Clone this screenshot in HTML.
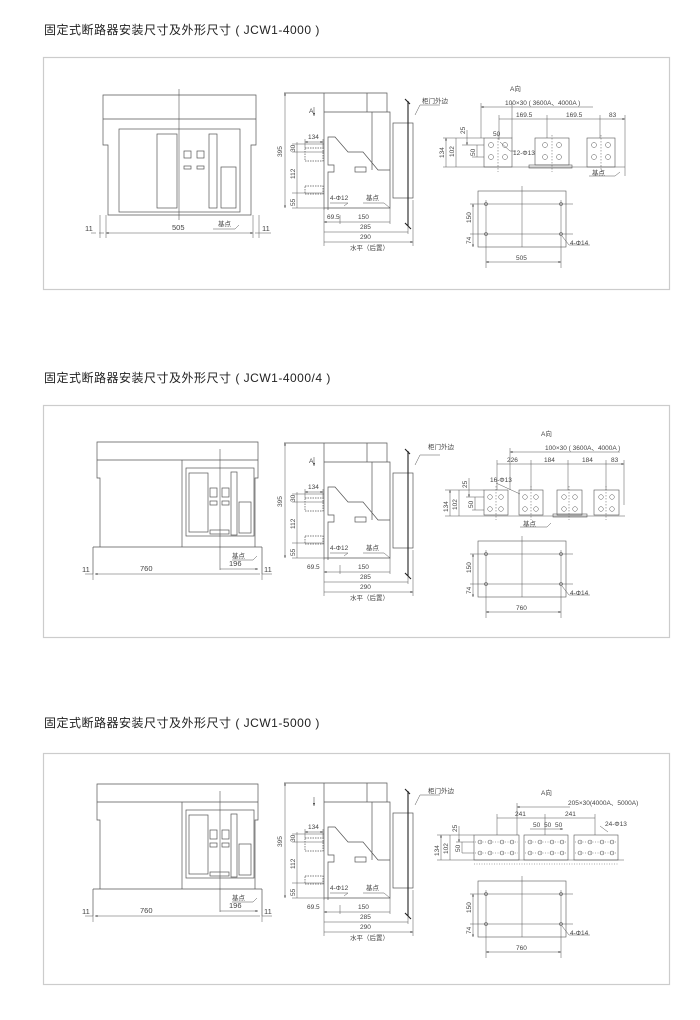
<!DOCTYPE html>
<html><head><meta charset="utf-8"><style>
html,body{margin:0;padding:0;background:#fff;}
svg{display:block;}
text{font-family:"Liberation Sans","Noto Sans CJK SC",sans-serif;fill:#444;}
.t{font-size:12px;fill:#222;letter-spacing:0.5px;}
.s{font-size:6.5px;}
.m{font-size:7.5px;}
</style></head><body>
<svg width="700" height="1020" viewBox="0 0 700 1020" xmlns="http://www.w3.org/2000/svg">
<defs>
<marker id="a" viewBox="0 0 6 6" refX="6" refY="3" markerWidth="5" markerHeight="5" orient="auto-start-reverse"><path d="M0,1 L6,3 L0,5z" fill="#333"/></marker>
<g id="side" fill="none" stroke="#555" stroke-width="0.7">
  <path d="M284,93 H387 V112 M367,93 V112 M324,93 V210 M324,112 H390 V208 H324 M372,112 V170 M328,210 V172 H334 V165 H328 V137 H335 L348,152 H363 L378,170 H390"/>
  <rect x="355" y="167" width="11" height="5"/>
  <rect x="393" y="123" width="20" height="75"/>
  <path d="M408,101 V226 M405,99 L410,104 M405,223 L411,229" stroke="#222" stroke-width="1.1"/>
  <rect x="305" y="148" width="18" height="13" stroke-dasharray="1.5,1"/>
  <rect x="305" y="186" width="18" height="8" stroke-dasharray="1.5,1"/>
  <path d="M297,142 V208 M292,144 H324 M292,152 H324 M292,193 H324 M292,208 H324 M305,139 V148 M323,139 V148" stroke-width="0.5"/>
  <path d="M285,93 V208" marker-start="url(#a)" marker-end="url(#a)" stroke-width="0.5"/>
  <path d="M305,142 H323" marker-start="url(#a)" marker-end="url(#a)" stroke-width="0.5"/>
  <path d="M324,210 V246 M340,215 V224 M390,208 V224 M408,226 V234 M413,200 V246" stroke-width="0.5"/>
  <path d="M324,222 H340 M340,222 H390 M324,232 H408 M324,242 H413" marker-start="url(#a)" marker-end="url(#a)" stroke-width="0.5"/>
  <path d="M330,203 H348 M348,203 L344,206 M363,203 H384 L390,208 M415,115 L420,105 H440" stroke-width="0.5"/>
  <path d="M314,107 V116" marker-end="url(#a)" stroke-width="0.6"/>
</g>
<g id="plan" fill="none" stroke="#555" stroke-width="0.6">
  <rect x="478" y="191" width="88" height="56"/>
  <path d="M522,186 V247 M470,204 H573 M470,234 H573 M486,200 V268 M561,200 V268 M562,236 L569,245 H590" stroke-width="0.5"/>
  <circle cx="486" cy="204" r="1.5"/><circle cx="561" cy="204" r="1.5"/><circle cx="486" cy="234" r="1.5"/><circle cx="561" cy="234" r="1.5"/>
  <path d="M473,204 V234 M473,234 V247" marker-start="url(#a)" marker-end="url(#a)" stroke-width="0.5"/>
  <path d="M486,262 H561" marker-start="url(#a)" marker-end="url(#a)" stroke-width="0.5"/>
</g>
<g id="front4" fill="none" stroke="#555" stroke-width="0.7">
  <path d="M97,442 H258 V460 H97 Z M97,460 V478 H100 V547 H255 V478 H258 V460 M182,460 V547 M93,547 V574 M262,547 V574 M100,547 H93 M255,547 H262"/>
  <rect x="186" y="468" width="68" height="68"/>
  <rect x="189" y="473" width="19" height="59"/>
  <rect x="210" y="488" width="7" height="9"/><rect x="222" y="488" width="7" height="9"/>
  <rect x="210" y="501" width="7" height="4"/><rect x="222" y="501" width="7" height="4"/>
  <rect x="231" y="472" width="6" height="63"/>
  <rect x="239" y="502" width="12" height="31"/>
  <rect x="210" y="530" width="19" height="4"/>
  <path d="M220,449 V570" stroke-width="0.6"/>
  <path d="M95,574 H260 M220,569 H258" marker-start="url(#a)" marker-end="url(#a)" stroke-width="0.5"/>
  <path d="M85,574 H93 M262,574 H272 M93,574 V580 M262,574 V580 M232,560 H253 L257,556" stroke-width="0.5"/>
</g>
</defs>

<!-- Panel frames -->
<rect x="43.5" y="57.5" width="626" height="232" fill="none" stroke="#ccc" stroke-width="1.2"/>
<rect x="43.5" y="405.5" width="626" height="232" fill="none" stroke="#ccc" stroke-width="1.2"/>
<rect x="43.5" y="753.5" width="626" height="231" fill="none" stroke="#ccc" stroke-width="1.2"/>

<text class="t" x="44" y="34">固定式断路器安装尺寸及外形尺寸 ( JCW1-4000 )</text>
<text class="t" x="44" y="382">固定式断路器安装尺寸及外形尺寸 ( JCW1-4000/4 )</text>
<text class="t" x="44" y="727">固定式断路器安装尺寸及外形尺寸 ( JCW1-5000 )</text>

<!-- ===== Panel 1 ===== -->
<g fill="none" stroke="#555" stroke-width="0.7">
  <path d="M103,95 H256 V119 H103 Z M103,119 V145 H108 V215 H251 V145 H256 V119"/>
  <rect x="119" y="129" width="121" height="83"/>
  <rect x="157" y="134" width="20" height="74"/>
  <rect x="184" y="151" width="7" height="7"/><rect x="197" y="151" width="7" height="7"/>
  <rect x="184" y="166" width="7" height="3"/><rect x="197" y="166" width="7" height="3"/>
  <rect x="209" y="134" width="8" height="74"/>
  <rect x="221" y="167" width="15" height="41"/>
  <path d="M179,89 V220" stroke-width="0.6"/>
  <path d="M106,233 H253" marker-start="url(#a)" marker-end="url(#a)" stroke-width="0.5"/>
  <path d="M99,233 H104 M255,233 H271 M91,233 H96 M100,215 V238 M106,215 V238 M253,215 V238 M259,215 V238 M213,229 H235 L239,225" stroke-width="0.5"/>
</g>
<text class="m" x="172" y="230">505</text>
<text class="m" x="85" y="231">11</text><text class="m" x="262" y="231">11</text>
<text class="s" x="218" y="226">基点</text>
<use href="#side"/>
<text class="s" transform="translate(282,157) rotate(-90)">395</text>
<text class="s" x="309" y="113">A</text>
<text class="s" x="308" y="139">134</text>
<text class="s" transform="translate(295,152) rotate(-90)">30</text>
<text class="s" transform="translate(295,179) rotate(-90)">112</text>
<text class="s" transform="translate(295,206) rotate(-90)">55</text>
<text class="s" x="327" y="219">69.5</text><text class="s" x="358" y="219">150</text>
<text class="s" x="360" y="229">285</text><text class="s" x="360" y="239">290</text>
<text class="s" x="350" y="250">水平（后置）</text>
<text class="s" x="330" y="200">4-Φ12</text><text class="s" x="366" y="200">基点</text>
<text class="s" x="422" y="103">柜门外边</text>
<!-- A view p1 -->
<text class="s" x="510" y="91">A向</text>
<g fill="none" stroke="#555" stroke-width="0.6">
  <path d="M481,107 H593 M499,119 H547 M547,119 H600 M600,119 H625" marker-start="url(#a)" marker-end="url(#a)" stroke-width="0.5"/>
  <path d="M481,103 V138 M512,103 V138 M499,115 V140 M547,115 V138 M600,115 V138 M625,115 V176 M443,167 H625" stroke-width="0.5"/>
  <rect x="484" y="138" width="28" height="29"/>
  <rect x="535" y="138" width="34" height="27"/><rect x="529" y="165" width="43" height="3"/>
  <rect x="587" y="138" width="28" height="29"/>
  <path d="M446,138 V167 M456,138 V167 M477,145 V157 M467,130 V145" marker-start="url(#a)" marker-end="url(#a)" stroke-width="0.5"/>
  <path d="M443,138 H484 M462,145 H484 M472,157 H484 M589,176 H615 L620,172 M500,142 L510,151 H516" stroke-width="0.5"/>
  <g stroke-width="0.5">
    <circle cx="491" cy="145" r="2.5"/><circle cx="505" cy="145" r="2.5"/><circle cx="491" cy="157" r="2.5"/><circle cx="505" cy="157" r="2.5"/>
    <circle cx="545" cy="145" r="2.5"/><circle cx="559" cy="145" r="2.5"/><circle cx="545" cy="157" r="2.5"/><circle cx="559" cy="157" r="2.5"/>
    <circle cx="594" cy="145" r="2.5"/><circle cx="608" cy="145" r="2.5"/><circle cx="594" cy="157" r="2.5"/><circle cx="608" cy="157" r="2.5"/>
  </g>
  <path d="M498,135 V172 M552,135 V172 M601,135 V172" stroke-dasharray="1.5,1.5" stroke-width="0.5"/>
</g>
<text class="s" x="505" y="105">100×30 ( 3600A、4000A )</text>
<text class="s" x="516" y="117">169.5</text><text class="s" x="566" y="117">169.5</text><text class="s" x="609" y="117">83</text>
<text class="s" transform="translate(444,158) rotate(-90)">134</text>
<text class="s" transform="translate(454,157) rotate(-90)">102</text>
<text class="s" transform="translate(465,134) rotate(-90)">25</text>
<text class="s" transform="translate(475,156) rotate(-90)">50</text>
<text class="s" x="493" y="136">50</text>
<text class="s" x="513" y="155">12-Φ13</text>
<text class="s" x="592" y="175">基点</text>
<use href="#plan"/>
<text class="s" transform="translate(471,223) rotate(-90)">150</text>
<text class="s" transform="translate(471,244) rotate(-90)">74</text>
<text class="s" x="516" y="260">505</text>
<text class="s" x="570" y="245">4-Φ14</text>

<!-- ===== Panel 2 ===== -->
<use href="#front4"/>
<text class="m" x="140" y="571">760</text><text class="m" x="229" y="566">196</text>
<text class="s" x="232" y="558">基点</text>
<text class="m" x="82" y="572">11</text><text class="m" x="264" y="572">11</text>
<g transform="translate(0,350)">
<use href="#side"/>
<text class="s" transform="translate(282,157) rotate(-90)">395</text>
<text class="s" x="309" y="113">A</text>
<text class="s" x="308" y="139">134</text>
<text class="s" transform="translate(295,152) rotate(-90)">30</text>
<text class="s" transform="translate(295,179) rotate(-90)">112</text>
<text class="s" transform="translate(295,206) rotate(-90)">55</text>
<text class="s" x="307" y="219">69.5</text><text class="s" x="358" y="219">150</text>
<text class="s" x="360" y="229">285</text><text class="s" x="360" y="239">290</text>
<text class="s" x="350" y="250">水平（后置）</text>
<text class="s" x="330" y="200">4-Φ12</text><text class="s" x="366" y="200">基点</text>
<use href="#plan"/>
<text class="s" transform="translate(471,223) rotate(-90)">150</text>
<text class="s" transform="translate(471,244) rotate(-90)">74</text>
<text class="s" x="516" y="260">760</text>
<text class="s" x="570" y="245">4-Φ14</text>
</g>
<text class="s" x="428" y="449">柜门外边</text>
<text class="s" x="541" y="436">A向</text>
<g fill="none" stroke="#555" stroke-width="0.5">
  <path d="M510,452 H620 M497,464 H531 M531,464 H568 M568,464 H606 M606,464 H624" marker-start="url(#a)" marker-end="url(#a)"/>
  <path d="M510,448 V490 M497,460 V490 M531,460 V490 M568,460 V490 M606,460 V490 M624,460 V505 M445,516 H625 M445,490 H484 M466,497 H484 M472,510 H484"/>
  <path d="M450,490 V516 M459,490 V516 M475,497 V510 M469,478 V497" marker-start="url(#a)" marker-end="url(#a)"/>
  <g stroke-width="0.6">
  <rect x="484" y="490" width="24" height="25"/><rect x="519" y="490" width="24" height="25"/>
  <rect x="557" y="490" width="25" height="25"/><rect x="553" y="514" width="34" height="3"/>
  <rect x="594" y="490" width="25" height="25"/>
  </g>
  <g>
  <circle cx="490" cy="497" r="2.3"/><circle cx="501" cy="497" r="2.3"/><circle cx="490" cy="509" r="2.3"/><circle cx="501" cy="509" r="2.3"/>
  <circle cx="525" cy="497" r="2.3"/><circle cx="536" cy="497" r="2.3"/><circle cx="525" cy="509" r="2.3"/><circle cx="536" cy="509" r="2.3"/>
  <circle cx="564" cy="497" r="2.3"/><circle cx="575" cy="497" r="2.3"/><circle cx="564" cy="509" r="2.3"/><circle cx="575" cy="509" r="2.3"/>
  <circle cx="601" cy="497" r="2.3"/><circle cx="612" cy="497" r="2.3"/><circle cx="601" cy="509" r="2.3"/><circle cx="612" cy="509" r="2.3"/>
  </g>
  <path d="M496,486 V520 M531,486 V520 M569,486 V520 M606,486 V520" stroke-dasharray="1.5,1.5"/>
  <path d="M520,527 H547 L551,523 M496,483 L520,494"/>
</g>
<text class="s" x="545" y="450">100×30 ( 3600A、4000A )</text>
<text class="s" x="507" y="462">226</text><text class="s" x="544" y="462">184</text><text class="s" x="582" y="462">184</text><text class="s" x="611" y="462">83</text>
<text class="s" x="490" y="482">16-Φ13</text>
<text class="s" transform="translate(448,512) rotate(-90)">134</text>
<text class="s" transform="translate(457,510) rotate(-90)">102</text>
<text class="s" transform="translate(467,488) rotate(-90)">25</text>
<text class="s" transform="translate(473,508) rotate(-90)">50</text>
<text class="s" x="523" y="526">基点</text>

<!-- ===== Panel 3 ===== -->
<g transform="translate(0,342)">
<use href="#front4"/>
<text class="m" x="140" y="571">760</text><text class="m" x="229" y="566">196</text>
<text class="s" x="232" y="558">基点</text>
<text class="m" x="82" y="572">11</text><text class="m" x="264" y="572">11</text>
</g>
<g transform="translate(0,690)">
<use href="#side"/>
<text class="s" transform="translate(282,157) rotate(-90)">395</text>
<text class="s" x="308" y="139">134</text>
<text class="s" transform="translate(295,152) rotate(-90)">30</text>
<text class="s" transform="translate(295,179) rotate(-90)">112</text>
<text class="s" transform="translate(295,206) rotate(-90)">55</text>
<text class="s" x="307" y="219">69.5</text><text class="s" x="358" y="219">150</text>
<text class="s" x="360" y="229">285</text><text class="s" x="360" y="239">290</text>
<text class="s" x="350" y="250">水平（后置）</text>
<text class="s" x="330" y="200">4-Φ12</text><text class="s" x="366" y="200">基点</text>
<use href="#plan"/>
<text class="s" transform="translate(471,223) rotate(-90)">150</text>
<text class="s" transform="translate(471,244) rotate(-90)">74</text>
<text class="s" x="516" y="260">760</text>
<text class="s" x="570" y="245">4-Φ14</text>
</g>
<text class="s" x="428" y="793">柜门外边</text>
<text class="s" x="541" y="795">A向</text>
<g fill="none" stroke="#555" stroke-width="0.5">
  <path d="M517,807 H570 M497,818 H545 M545,818 H595 M530,829 H563" marker-start="url(#a)" marker-end="url(#a)"/>
  <path d="M517,803 V835 M497,814 V835 M545,814 V835 M595,814 V835 M437,860 H624 M437,835 H474 M456,842 H474 M462,853 H474 M600,826 L608,832"/>
  <path d="M441,835 V860 M450,835 V860 M462,842 V853 M459,826 V842" marker-start="url(#a)" marker-end="url(#a)"/>
  <g stroke-width="0.6">
  <rect x="474" y="835" width="45" height="25"/><rect x="524" y="835" width="44" height="25"/><rect x="574" y="835" width="44" height="25"/>
  </g>
  <g>
  <circle cx="480" cy="842" r="2"/><circle cx="490" cy="842" r="2"/><circle cx="502" cy="842" r="2"/><circle cx="512" cy="842" r="2"/>
  <circle cx="480" cy="853" r="2"/><circle cx="490" cy="853" r="2"/><circle cx="502" cy="853" r="2"/><circle cx="512" cy="853" r="2"/>
  <circle cx="530" cy="842" r="2"/><circle cx="540" cy="842" r="2"/><circle cx="552" cy="842" r="2"/><circle cx="562" cy="842" r="2"/>
  <circle cx="530" cy="853" r="2"/><circle cx="540" cy="853" r="2"/><circle cx="552" cy="853" r="2"/><circle cx="562" cy="853" r="2"/>
  <circle cx="580" cy="842" r="2"/><circle cx="590" cy="842" r="2"/><circle cx="602" cy="842" r="2"/><circle cx="612" cy="842" r="2"/>
  <circle cx="580" cy="853" r="2"/><circle cx="590" cy="853" r="2"/><circle cx="602" cy="853" r="2"/><circle cx="612" cy="853" r="2"/>
  </g>
  <path d="M475,842 H518 M475,853 H518 M525,842 H567 M525,853 H567 M575,842 H617 M575,853 H617 M474,864 H618" stroke-dasharray="1,1.5"/>
</g>
<text class="s" x="568" y="805">205×30(4000A、5000A)</text>
<text class="s" x="515" y="816">241</text><text class="s" x="565" y="816">241</text>
<text class="s" x="533" y="827">50</text><text class="s" x="544" y="827">50</text><text class="s" x="555" y="827">50</text>
<text class="s" x="605" y="826">24-Φ13</text>
<text class="s" transform="translate(439,856) rotate(-90)">134</text>
<text class="s" transform="translate(448,854) rotate(-90)">102</text>
<text class="s" transform="translate(457,832) rotate(-90)">25</text>
<text class="s" transform="translate(460,852) rotate(-90)">50</text>
</svg>
</body></html>
